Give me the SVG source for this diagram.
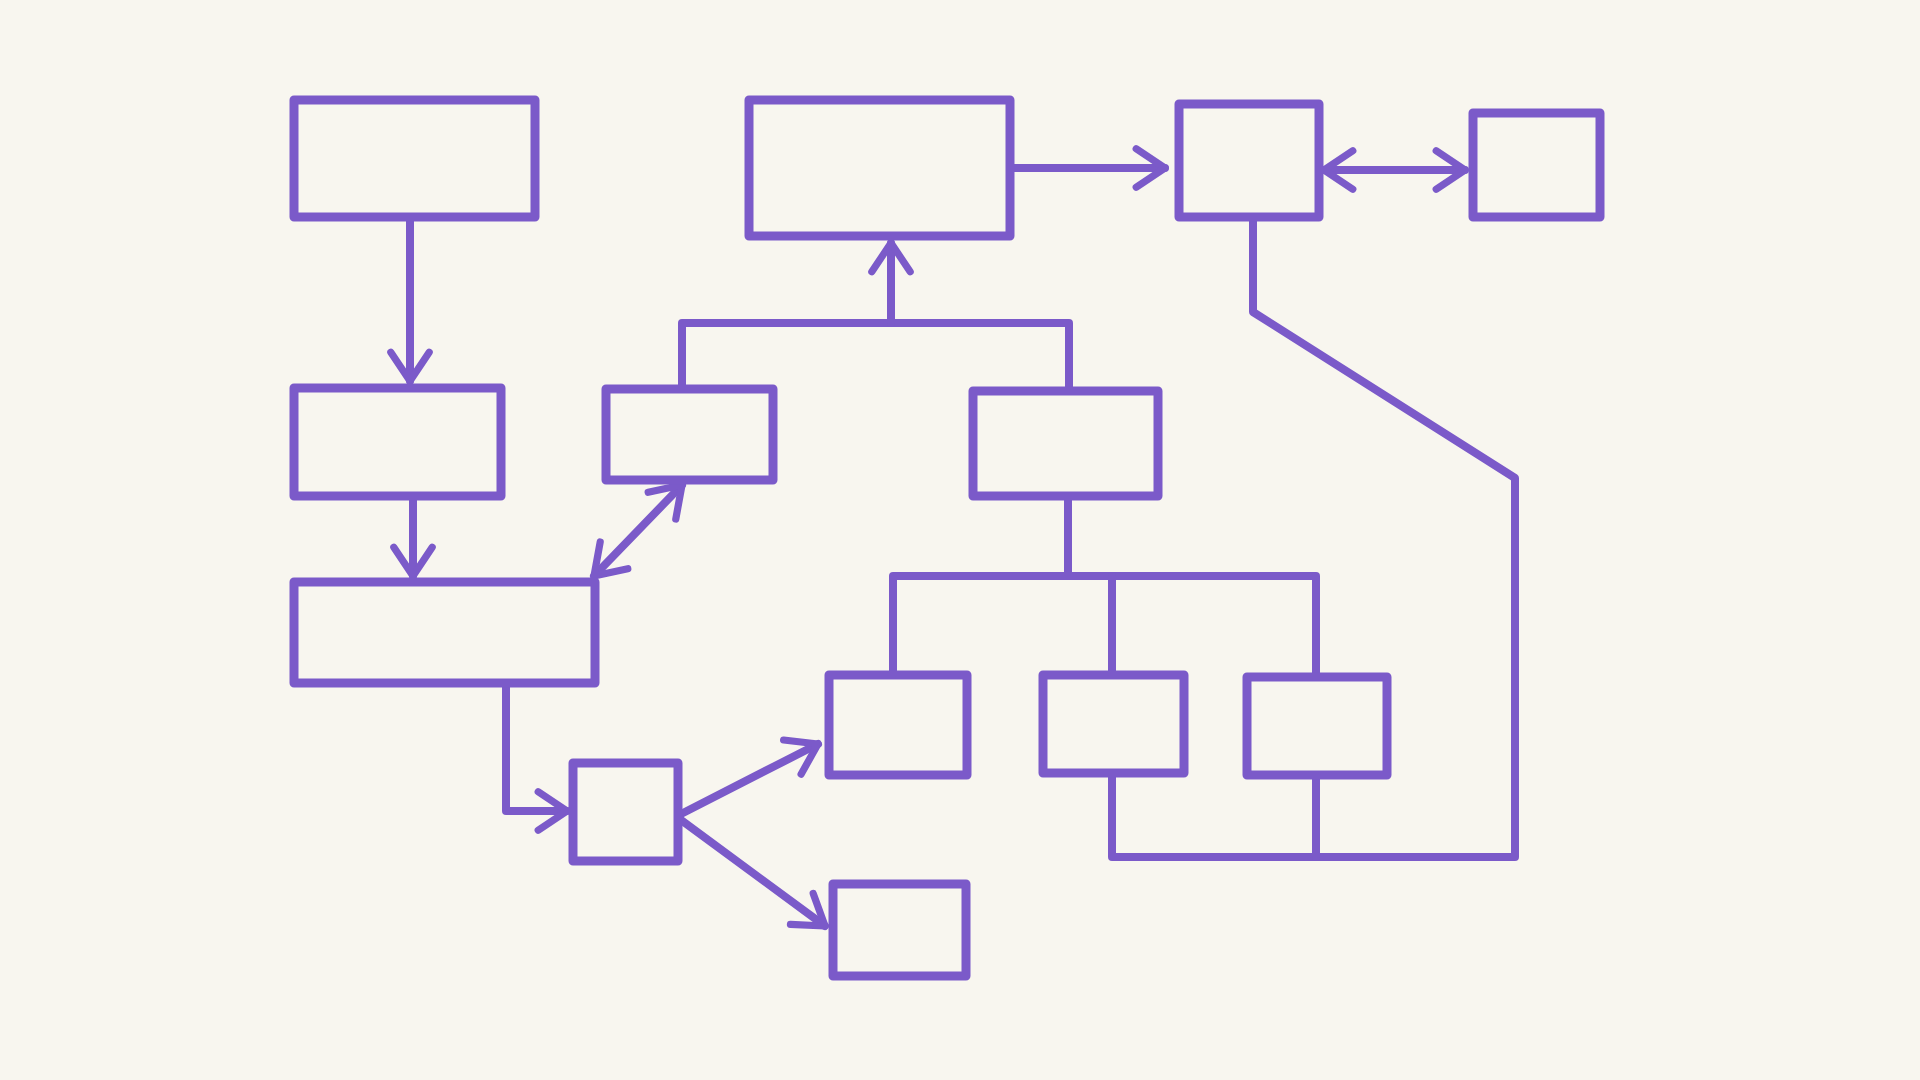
<svg xmlns="http://www.w3.org/2000/svg" width="1920" height="1080" viewBox="0 0 1920 1080">
<style>
.b{fill:none;stroke:#7b5ac9;stroke-width:9;stroke-linejoin:round}
.c{fill:none;stroke:#7b5ac9;stroke-width:8;stroke-linecap:round;stroke-linejoin:round}
</style>
<defs>
<marker id="ar" viewBox="0 0 20 20" refX="16" refY="10" markerWidth="6" markerHeight="6" orient="auto-start-reverse" markerUnits="strokeWidth">
<path d="M4 2 L16 10 L4 18" fill="none" stroke="#7b5ac9" stroke-width="3" stroke-linecap="round" stroke-linejoin="round"/>
</marker>
</defs>
<rect width="1920" height="1080" fill="#f8f6ef"/>
<g id="connectors">
<path class="c" d="M410 217 V381" marker-end="url(#ar)"/>
<path class="c" d="M413 496 V576" marker-end="url(#ar)"/>
<path class="c" d="M682 485 L594 576" marker-start="url(#ar)" marker-end="url(#ar)"/>
<path class="c" d="M506 683 V811 H567" marker-end="url(#ar)"/>
<path class="c" d="M681 814 L818 744" marker-end="url(#ar)"/>
<path class="c" d="M681 820 L825 926" marker-end="url(#ar)"/>
<path class="c" d="M682 389 V323 H1069 V391"/>
<path class="c" d="M891 323 V243" marker-end="url(#ar)"/>
<path class="c" d="M1010 168 H1165" marker-end="url(#ar)"/>
<path class="c" d="M1324 170 H1465" marker-start="url(#ar)" marker-end="url(#ar)"/>
<path class="c" d="M1253 217 V312 L1515 478 V857 H1112 V773"/>
<path class="c" d="M1316 775 V857"/>
<path class="c" d="M1068 496 V576"/>
<path class="c" d="M893 675 V576 H1316 V677"/>
<path class="c" d="M1112 576 V675"/>
</g>
<g id="nA"><rect class="b" x="294" y="100" width="241" height="117"/></g>
<g id="nB"><rect class="b" x="749" y="100" width="261" height="136"/></g>
<g id="nC"><rect class="b" x="1179" y="104" width="140" height="113"/></g>
<g id="nD"><rect class="b" x="1473" y="113" width="127" height="104"/></g>
<g id="nE"><rect class="b" x="294" y="388" width="207" height="108"/></g>
<g id="nF"><rect class="b" x="606" y="389" width="167" height="91"/></g>
<g id="nG"><rect class="b" x="973" y="391" width="185" height="105"/></g>
<g id="nH"><rect class="b" x="294" y="582" width="301" height="101"/></g>
<g id="nI"><rect class="b" x="573" y="763" width="105" height="98"/></g>
<g id="nJ"><rect class="b" x="829" y="675" width="138" height="100"/></g>
<g id="nK"><rect class="b" x="1043" y="675" width="141" height="98"/></g>
<g id="nL"><rect class="b" x="1247" y="677" width="140" height="98"/></g>
<g id="nM"><rect class="b" x="833" y="884" width="133" height="92"/></g>
</svg>
